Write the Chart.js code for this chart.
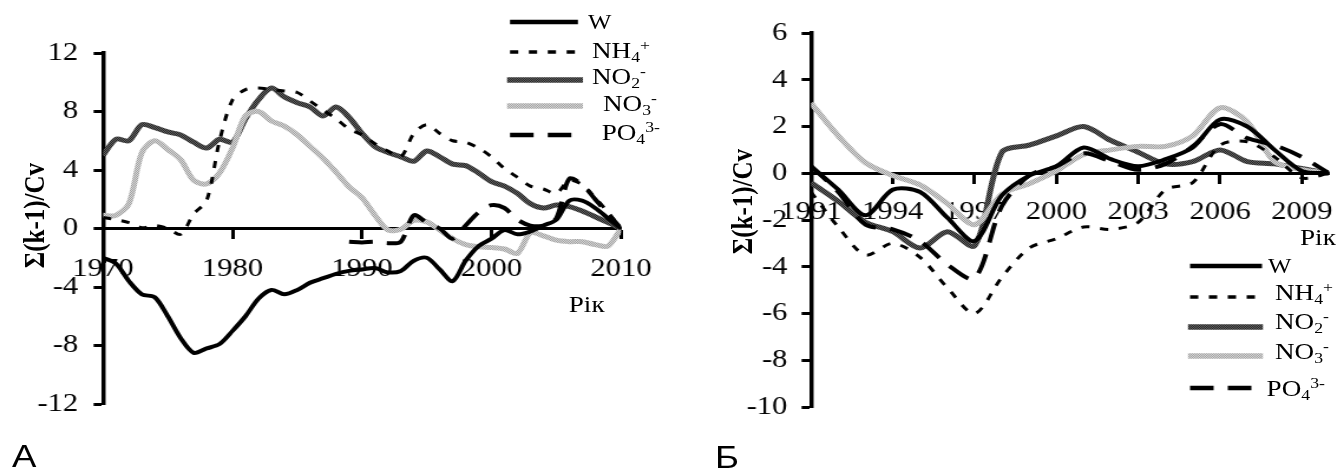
<!DOCTYPE html>
<html lang="uk">
<head>
<meta charset="utf-8">
<title>Σ(k-1)/Cv</title>
<script src="https://cdn.jsdelivr.net/npm/chart.js@4.4.0/dist/chart.umd.min.js"></script>
<style>
    html, body { margin: 0; padding: 0; background: #fff; overflow: hidden; }
    /* the original figure is slightly stretched horizontally */
    #pagina {
        position: absolute; left: 0; top: 0;
        width: 1139px; height: 473px;
        transform: scaleX(1.18); transform-origin: 0 0;
        font-family: 'Liberation Serif', 'Times New Roman', serif; color: #000;
    }
    canvas { position: absolute; top: 0; }
    #graficoA { left: 0; }
    #graficoB { left: 559px; }
    .txt { position: absolute; white-space: nowrap; line-height: 1; }
    .leg { font-size: 23px; }
    .leg sub, .leg sup { font-size: 15px; line-height: 0; position: relative; vertical-align: baseline; }
    .leg sub { top: 4px; }
    .leg sup { top: -8px; }
    .w { font-size: 21px; }
    .eixo { font-size: 25px; font-weight: bold; width: 200px; text-align: center; transform: rotate(-90deg); }
    .ano { font-size: 23px; }
    .painel { font-family: 'Liberation Sans', Arial, sans-serif; font-size: 31px; }
</style>
</head>
<body>
<div id="pagina">
    <canvas id="graficoA" width="559" height="473"></canvas>
    <canvas id="graficoB" width="580" height="473"></canvas>

    <!-- Painel A -->
    <div class="txt eixo" style="left:-71.2px; top:202.5px;">Σ(k-1)/Cv</div>
    <div class="txt ano" style="left:482px; top:293.4px;">Рік</div>
    <div class="txt leg w" style="left:498.3px; top:11.9px;">W</div>
    <div class="txt leg" style="left:501.7px; top:38.9px;">NH<sub>4</sub><sup>+</sup></div>
    <div class="txt leg" style="left:501.7px; top:65.4px;">NO<sub>2</sub><sup>-</sup></div>
    <div class="txt leg" style="left:511px; top:92.1px;">NO<sub>3</sub><sup>-</sup></div>
    <div class="txt leg" style="left:509.9px; top:121.4px;">PO<sub>4</sub><sup>3-</sup></div>
    <div class="txt painel" style="left:10.2px; top:440.9px;">А</div>

    <!-- Painel Б -->
    <div class="txt eixo" style="left:528.8px; top:188.5px;">Σ(k-1)/Cv</div>
    <div class="txt ano" style="left:1101.7px; top:225.9px;">Рік</div>
    <div class="txt leg w" style="left:1074.6px; top:256.4px;">W</div>
    <div class="txt leg" style="left:1080.5px; top:281.4px;">NH<sub>4</sub><sup>+</sup></div>
    <div class="txt leg" style="left:1080.5px; top:310px;">NO<sub>2</sub><sup>-</sup></div>
    <div class="txt leg" style="left:1080.5px; top:340px;">NO<sub>3</sub><sup>-</sup></div>
    <div class="txt leg" style="left:1073.4px; top:376.5px;">PO<sub>4</sub><sup>3-</sup></div>
    <div class="txt painel" style="left:606px; top:441.9px;">Б</div>
</div>

<script>
// Dados do painel A (1970-2010)
const anosA = [1970, 1971, 1972, 1973, 1974, 1975, 1976, 1977, 1978, 1979,
               1980, 1981, 1982, 1983, 1984, 1985, 1986, 1987, 1988, 1989,
               1990, 1991, 1992, 1993, 1994, 1995, 1996, 1997, 1998, 1999,
               2000, 2001, 2002, 2003, 2004, 2005, 2006, 2007, 2008, 2009, 2010];
const wA   = [-2.0, -2.4, -3.6, -4.5, -4.7, -6.0, -7.5, -8.5, -8.2, -7.9,
              -7.0, -6.0, -4.8, -4.2, -4.5, -4.2, -3.7, -3.4, -3.1, -2.9,
              -2.8, -2.7, -3.0, -2.9, -2.2, -2.0, -2.8, -3.6, -2.2, -1.2,
              -0.7, -0.1, -0.4, -0.2, 0.2, 0.6, 1.9, 1.9, 1.4, 0.7, 0];
const nh4A = [0.75, 0.6, 0.4, 0.05, 0.2, 0.0, -0.4, 1.0, 1.9, 6.0,
              8.8, 9.5, 9.6, 9.5, 9.4, 9.3, 8.7, 8.1, 7.5, 6.8,
              6.4, 5.8, 5.3, 4.9, 6.5, 7.1, 6.5, 6.0, 5.9, 5.5,
              4.9, 4.1, 3.5, 2.9, 2.7, 2.4, 3.3, 3.0, 2.1, 1.1, 0];
const no2A = [5.0, 6.1, 6.0, 7.1, 6.9, 6.6, 6.4, 5.9, 5.5, 6.1,
              5.9, 7.5, 8.8, 9.6, 9.0, 8.6, 8.3, 7.7, 8.3, 7.6,
              6.5, 5.6, 5.2, 4.9, 4.6, 5.3, 4.9, 4.4, 4.3, 3.8,
              3.2, 2.9, 2.4, 1.7, 1.4, 1.6, 1.5, 1.2, 0.8, 0.4, 0];
const no3A = [0.9, 0.9, 1.7, 5.2, 6.0, 5.4, 4.7, 3.3, 3.05, 3.8,
              5.5, 7.7, 8.0, 7.35, 7.0, 6.4, 5.6, 4.8, 3.85, 2.85,
              2.1, 0.9, -0.1, -0.05, 0.55, 0.45, -0.1, -0.7, -1.1, -1.25,
              -1.3, -1.4, -1.7, -0.3, -0.5, -0.8, -0.9, -0.9, -1.1, -1.2, 0];
const po4A = [null, null, null, null, null, null, null, null, null, null,
              null, null, null, null, null, null, null, null, null, -0.9,
              -0.95, -0.9, -1.0, -0.9, 0.9, 0.4, 0.0, -0.7, 0.2, 1.1,
              1.6, 1.4, 0.6, 0.2, 0.2, 0.7, 3.4, 3.0, 2.0, 1.0, 0];
const ticksXA = [1970, 1980, 1990, 2000, 2010];
const ticksYA = [-12, -8, -4, 0, 4, 8, 12];

// Dados do painel Б (1991-2010)
const anosB = [1991, 1992, 1993, 1994, 1995, 1996, 1997, 1998, 1999, 2000,
               2001, 2002, 2003, 2004, 2005, 2006, 2007, 2008, 2009, 2010];
const wB   = [0.3, -0.7, -1.8, -0.7, -0.8, -1.9, -2.9, -0.95, -0.1, 0.3,
              1.1, 0.6, 0.3, 0.6, 1.1, 2.3, 2.0, 1.0, 0.1, 0];
const nh4B = [-0.8, -2.3, -3.5, -3.0, -3.6, -4.9, -6.0, -4.45, -3.2, -2.8,
              -2.3, -2.4, -2.1, -0.7, -0.4, 1.2, 1.35, 0.7, -0.2, 0];
const no2B = [-0.4, -1.2, -2.1, -2.5, -3.2, -2.5, -3.1, 0.9, 1.2, 1.6,
              2.0, 1.4, 0.9, 0.4, 0.5, 1.0, 0.5, 0.4, 0.2, 0];
const no3B = [3.0, 1.6, 0.45, -0.1, -0.5, -1.3, -2.2, -0.9, -0.45, 0.1,
              0.8, 1.0, 1.15, 1.15, 1.6, 2.8, 2.2, 0.5, 0.15, 0];
const po4B = [0.3, -0.8, -2.2, -2.4, -2.9, -3.9, -4.5, -1.4, -0.1, 0.3,
              0.85, 0.5, 0.15, 0.4, 1.15, 2.1, 1.5, 1.2, 0.7, 0];
const ticksXB = [1991, 1994, 1997, 2000, 2003, 2006, 2009];
const ticksYB = [-10, -8, -6, -4, -2, 0, 2, 4, 6];

// Textura das linhas cinzentas (como no Excel)
function criarPadrao(c1, c2) {
    const cv = document.createElement('canvas');
    cv.width = 2;
    cv.height = 2;
    const g = cv.getContext('2d');
    g.fillStyle = c1;
    g.fillRect(0, 0, 2, 2);
    g.fillStyle = c2;
    g.fillRect(0, 0, 1, 1);
    g.fillRect(1, 1, 1, 1);
    return g.createPattern(cv, 'repeat');
}

const estilos = {
    w:   { cor: '#000', largura: 4, traco: [] },
    nh4: { cor: '#000', largura: 3, traco: [7, 9] },
    no2: { cor: criarPadrao('#606060', '#262626'), largura: 5, traco: [] },
    no3: { cor: criarPadrao('#d6d6d6', '#a2a2a2'), largura: 5, traco: [] },
    po4: { cor: '#000', largura: 4, traco: [20, 12] }
};

const fonteTicks = { family: "'Liberation Serif', 'Times New Roman', serif", size: 26 };

// Amostras de linha da legenda
const legendaPlugin = {
    id: 'legendaAmostras',
    afterDraw(chart, args, opts) {
        const ctx = chart.ctx;
        (opts.itens || []).forEach(item => {
            const e = estilos[item.serie];
            ctx.save();
            ctx.strokeStyle = e.cor;
            ctx.lineWidth = e.largura + 0.5;
            ctx.setLineDash(e.traco);
            ctx.lineCap = 'butt';
            ctx.beginPath();
            ctx.moveTo(item.x1, item.y);
            ctx.lineTo(item.x2, item.y);
            ctx.stroke();
            ctx.restore();
        });
    }
};

function serie(label, anos, valores, estilo, ordem) {
    return {
        label: label,
        data: anos.map((a, i) => ({ x: a, y: valores[i] })),
        borderColor: estilo.cor,
        borderWidth: estilo.largura,
        borderDash: estilo.traco,
        borderCapStyle: 'butt',
        borderJoinStyle: 'round',
        pointRadius: 0,
        tension: 0.3,
        fill: false,
        spanGaps: false,
        order: ordem
    };
}

function criarGrafico(id, cfg) {
    const ctx = document.getElementById(id);
    return new Chart(ctx, {
        type: 'line',
        data: {
            datasets: [
                serie('W', cfg.anos, cfg.w, estilos.w, 0),
                serie('NH4+', cfg.anos, cfg.nh4, estilos.nh4, 1),
                serie('NO2-', cfg.anos, cfg.no2, estilos.no2, 4),
                serie('NO3-', cfg.anos, cfg.no3, estilos.no3, 3),
                serie('PO4 3-', cfg.anos, cfg.po4, estilos.po4, 2)
            ]
        },
        plugins: [legendaPlugin],
        options: {
            responsive: false,
            animation: false,
            layout: { autoPadding: false, padding: cfg.padding },
            plugins: {
                legend: { display: false },
                tooltip: { enabled: false },
                legendaAmostras: { itens: cfg.legenda }
            },
            scales: {
                x: {
                    type: 'linear',
                    position: { y: 0 },
                    min: cfg.anos[0],
                    max: cfg.anos[cfg.anos.length - 1],
                    afterBuildTicks: (s) => { s.ticks = cfg.ticksX.map(v => ({ value: v })); },
                    afterFit: (s) => { s.paddingLeft = 0; s.paddingRight = 0; },
                    ticks: {
                        autoSkip: false,
                        maxRotation: 0,
                        color: '#000',
                        font: fonteTicks,
                        padding: cfg.padX,
                        callback: (v) => String(v)
                    },
                    grid: { drawOnChartArea: false, drawTicks: true, tickLength: 9, tickWidth: 3, tickColor: '#000' },
                    border: { display: true, color: '#000', width: 3 }
                },
                y: {
                    type: 'linear',
                    position: 'left',
                    min: cfg.ticksY[0],
                    max: cfg.ticksY[cfg.ticksY.length - 1],
                    afterBuildTicks: (s) => { s.ticks = cfg.ticksY.map(v => ({ value: v })); },
                    afterFit: (s) => { s.width = 80; s.paddingTop = 0; s.paddingBottom = 0; },
                    ticks: {
                        autoSkip: false,
                        color: '#000',
                        font: fonteTicks,
                        padding: cfg.padY,
                        callback: (v) => String(v)
                    },
                    grid: { drawOnChartArea: false, drawTicks: true, tickLength: 8, tickWidth: 3, tickColor: '#000' },
                    border: { display: true, color: '#000', width: 3.5 }
                }
            }
        }
    });
}

document.addEventListener('DOMContentLoaded', function () {
    window.graficoA = criarGrafico('graficoA', {
        anos: anosA, w: wA, nh4: nh4A, no2: no2A, no3: no3A, po4: po4A,
        ticksX: ticksXA, ticksY: ticksYA,
        padding: { left: 7.3, right: 32.7, top: 53, bottom: 69 },
        padX: 16, padY: 13,
        legenda: [
            { serie: 'w',   x1: 432.2, x2: 489.8, y: 22 },
            { serie: 'nh4', x1: 432.2, x2: 489.8, y: 52 },
            { serie: 'no2', x1: 429.7, x2: 494,   y: 80 },
            { serie: 'no3', x1: 429.7, x2: 494,   y: 106 },
            { serie: 'po4', x1: 432.2, x2: 485.6, y: 135 }
        ]
    });

    window.graficoB = criarGrafico('graficoB', {
        anos: anosB, w: wB, nh4: nh4B, no2: no2B, no3: no3B, po4: po4B,
        ticksX: ticksXB, ticksY: ticksYB,
        padding: { left: 48.3, right: 12.7, top: 33, bottom: 66 },
        padX: 14, padY: 12,
        legenda: [
            { serie: 'w',   x1: 449.5, x2: 510.5, y: 266 },
            { serie: 'nh4', x1: 449.5, x2: 507,   y: 297 },
            { serie: 'no2', x1: 447.8, x2: 511.3, y: 327 },
            { serie: 'no3', x1: 447.8, x2: 511.3, y: 356 },
            { serie: 'po4', x1: 449.5, x2: 502,   y: 388 }
        ]
    });
});
</script>
</body>
</html>
